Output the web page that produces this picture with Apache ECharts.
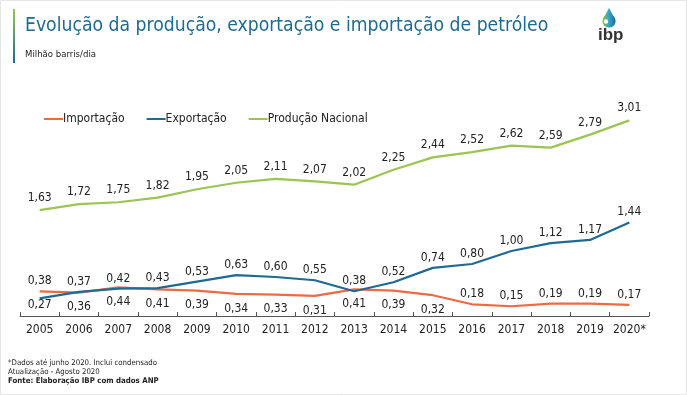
<!DOCTYPE html>
<html>
<head>
<meta charset="utf-8">
<script src="https://cdn.jsdelivr.net/npm/echarts@6/dist/echarts.min.js"></script>
<style>
html,body{margin:0;padding:0;background:#fff;}
#c{width:687px;height:395px;}
</style>
</head>
<body>
<div id="c"></div>
<script>
const years = ['2005','2006','2007','2008','2009','2010','2011','2012','2013','2014','2015','2016','2017','2018','2019','2020*'];
const importacao = [0.38,0.36,0.44,0.41,0.39,0.34,0.33,0.31,0.41,0.39,0.32,0.18,0.15,0.19,0.19,0.17];
const exportacao = [0.27,0.37,0.42,0.43,0.53,0.63,0.60,0.55,0.38,0.52,0.74,0.80,1.00,1.12,1.17,1.44];
const producao = [1.63,1.72,1.75,1.82,1.95,2.05,2.11,2.07,2.02,2.25,2.44,2.52,2.62,2.59,2.79,3.01];
const importLabelPos = ['top','bottom','bottom','bottom','bottom','bottom','bottom','bottom','bottom','bottom','bottom','top','top','top','top','top'];
const exportLabelPos = ['bottom','top','top','top','top','top','top','top','top','top','top','top','top','top','top','top'];

const FONT = '"DejaVu Sans Condensed","DejaVu Sans",sans-serif';
const fmt = p => Number(p.value).toFixed(2).replace('.', ',');
const lbl = {show:true, fontFamily:FONT, fontSize:12, color:'#222', formatter:fmt, distance:4};

const dropGrad = new echarts.graphic.LinearGradient(0,0,1,0,[{offset:0,color:'#8DC63F'},{offset:0.55,color:'#2F9FD0'},{offset:1,color:'#1F6A93'}]);

const lineBase = {type:'line', symbol:'circle', symbolSize:0.1, showSymbol:true, lineStyle:{width:2.2}};

function labelFor(pos, bottomDist) {
  return pos === 'bottom' ? {position:'bottom', distance:bottomDist} : {position:'top', distance:4};
}

const chart = echarts.init(document.getElementById('c'), null, {renderer:'canvas'});
chart.setOption({
  animation:false,
  backgroundColor:'#fff',
  grid:{left:20, right:38, top:82, bottom:79},
  legend:{
    left:39, top:108, itemWidth:19, itemHeight:2, itemGap:22,
    icon:'rect',
    textStyle:{fontFamily:FONT, fontSize:12, color:'#222', padding:[0,0,0,-5]},
    data:['Importação','Exportação','Produção Nacional']
  },
  xAxis:{
    type:'category', data:years, boundaryGap:true,
    axisLine:{lineStyle:{color:'#555', width:1}},
    axisTick:{show:true, inside:true, length:4, lineStyle:{color:'#555'}},
    axisLabel:{fontFamily:FONT, fontSize:12, color:'#222', margin:8, interval:0}
  },
  yAxis:{type:'value', min:0, max:3.6, show:false, splitLine:{show:false}},
  series:[
    Object.assign({}, lineBase, {name:'Importação', color:'#EE6A43',
     data: importacao.map((v,i)=>({value:v, label:labelFor(importLabelPos[i], 8.5)})), label:lbl}),
    Object.assign({}, lineBase, {name:'Exportação', color:'#1F6A93',
     data: exportacao.map((v,i)=>({value:v, label:labelFor(exportLabelPos[i], 0)})), label:lbl}),
    Object.assign({}, lineBase, {name:'Produção Nacional', color:'#9CC453',
     data: producao, label:Object.assign({}, lbl, {position:'top', distance:6})})
  ],
  graphic:[
    {type:'rect', shape:{x:0.5,y:0.5,width:686,height:394}, style:{fill:'none', stroke:'#e6e6e6', lineWidth:1}, silent:true},
    {type:'rect', shape:{x:13,y:9,width:2,height:54},
     style:{fill:new echarts.graphic.LinearGradient(0,0,0,1,[{offset:0,color:'#9CC453'},{offset:1,color:'#1F6A93'}])}},
    {type:'text', x:25, y:17, style:{text:'Evolução da produção, exportação e importação de petróleo', font:'19.2px ' + FONT, fill:'#1F6A8F'}},
    {type:'text', x:25, y:50, style:{text:'Milhão barris/dia', font:'9.5px ' + FONT, fill:'#222'}},
    {type:'polygon', shape:{points:[[609,8],[602.6,20],[615.4,20]]}, style:{fill:dropGrad}},
    {type:'circle', shape:{cx:609, cy:21, r:6.6}, style:{fill:dropGrad}},
    {type:'circle', shape:{cx:606, cy:21.5, r:2.2}, style:{fill:'#ffffff'}},
    {type:'text', x:598, y:27, style:{text:'ibp', font:'bold 17px "Liberation Sans",sans-serif', fill:'#333'}},
    {type:'text', x:8, y:359, style:{text:'*Dados até junho 2020. Inclui condensado', font:'7.8px ' + FONT, fill:'#222'}},
    {type:'text', x:8, y:368, style:{text:'Atualização - Agosto 2020', font:'7.8px ' + FONT, fill:'#222'}},
    {type:'text', x:8, y:377, style:{text:'Fonte: Elaboração IBP com dados ANP', font:'bold 7.8px ' + FONT, fill:'#222'}}
  ]
});
</script>
</body>
</html>
